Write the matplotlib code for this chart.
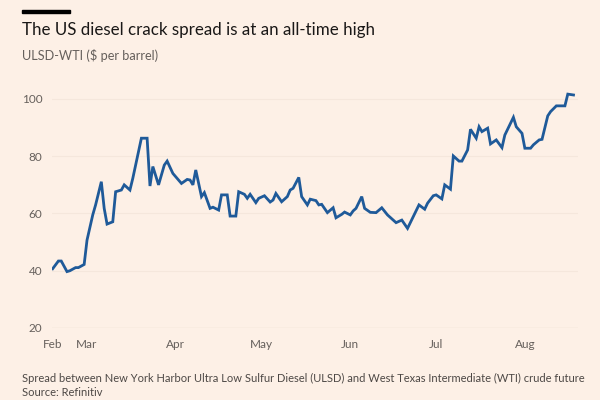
import matplotlib
matplotlib.use("Agg")
import matplotlib.pyplot as plt
import pandas as pd

dates = [
    "2022-02-17", "2022-02-19", "2022-02-20", "2022-02-22", "2022-02-23", "2022-02-25",
    "2022-02-26", "2022-02-28", "2022-03-01", "2022-03-03", "2022-03-04", "2022-03-06",
    "2022-03-07", "2022-03-08", "2022-03-10", "2022-03-11", "2022-03-13", "2022-03-14",
    "2022-03-16", "2022-03-17", "2022-03-20", "2022-03-22", "2022-03-23", "2022-03-24",
    "2022-03-26", "2022-03-28", "2022-03-29", "2022-03-31", "2022-04-03", "2022-04-05",
    "2022-04-06", "2022-04-07", "2022-04-08", "2022-04-10", "2022-04-11", "2022-04-13",
    "2022-04-14", "2022-04-16", "2022-04-17", "2022-04-19", "2022-04-20", "2022-04-22",
    "2022-04-23", "2022-04-25", "2022-04-26", "2022-04-27", "2022-04-29", "2022-04-30",
    "2022-05-02", "2022-05-04", "2022-05-05", "2022-05-06", "2022-05-08", "2022-05-10",
    "2022-05-11", "2022-05-12", "2022-05-14", "2022-05-15", "2022-05-17", "2022-05-18",
    "2022-05-20", "2022-05-21", "2022-05-22", "2022-05-24", "2022-05-26", "2022-05-27",
    "2022-05-29", "2022-05-30", "2022-06-01", "2022-06-02", "2022-06-03", "2022-06-05",
    "2022-06-06", "2022-06-08", "2022-06-10", "2022-06-12", "2022-06-14", "2022-06-17",
    "2022-06-19", "2022-06-21", "2022-06-23", "2022-06-25", "2022-06-27", "2022-06-28",
    "2022-06-30", "2022-07-01", "2022-07-03", "2022-07-04", "2022-07-06", "2022-07-07",
    "2022-07-09", "2022-07-10", "2022-07-12", "2022-07-13", "2022-07-15", "2022-07-16",
    "2022-07-17", "2022-07-19", "2022-07-20", "2022-07-22", "2022-07-24", "2022-07-25",
    "2022-07-28", "2022-07-29", "2022-07-31", "2022-08-01", "2022-08-03", "2022-08-04",
    "2022-08-06", "2022-08-07", "2022-08-09", "2022-08-10", "2022-08-12", "2022-08-13",
    "2022-08-15", "2022-08-16", "2022-08-18",
]
spread = [
    40.7, 43.4, 43.4, 39.7, 40.0, 41.1,
    41.1, 42.2, 50.7, 59.5, 63.0, 71.1,
    61.8, 56.3, 57.1, 67.6, 68.2, 70.0,
    68.2, 72.3, 86.3, 86.3, 69.6, 76.4,
    70.0, 76.9, 78.3, 74.0, 70.5, 71.9,
    71.7, 70.0, 75.2, 65.9, 67.3, 61.8,
    62.2, 61.2, 66.5, 66.5, 59.1, 59.1,
    67.6, 66.7, 65.3, 66.7, 63.8, 65.3,
    66.2, 64.0, 64.7, 67.0, 64.1, 65.9,
    68.2, 68.8, 72.6, 65.9, 63.0, 65.0,
    64.5, 63.0, 63.2, 60.3, 62.0, 58.5,
    59.7, 60.5, 59.5, 60.9, 61.8, 65.9,
    61.8, 60.4, 60.3, 62.0, 59.5, 56.8,
    57.7, 54.8, 58.9, 63.0, 61.5, 63.6,
    66.2, 66.5, 65.1, 70.0, 68.5, 80.1,
    78.3, 78.3, 82.2, 89.4, 86.3, 90.3,
    88.6, 89.8, 84.3, 85.7, 83.0, 87.4,
    93.6, 90.3, 88.0, 82.8, 82.8, 84.0,
    85.7, 85.9, 94.1, 95.6, 97.6, 97.6,
    97.6, 101.7, 101.4,
]
y_ticks = [20, 40, 60, 80, 100]
x_tick_dates = ["2022-02-17", "2022-03-01", "2022-04-01", "2022-05-01",
                "2022-06-01", "2022-07-01", "2022-08-01"]
x_tick_labels = ["Feb", "Mar", "Apr", "May", "Jun", "Jul", "Aug"]

title = "The US diesel crack spread is at an all-time high"
subtitle = "ULSD-WTI ($ per barrel)"
note = "Spread between New York Harbor Ultra Low Sulfur Diesel (ULSD) and West Texas Intermediate (WTI) crude future"
source = "Source: Refinitiv"

BG = "#FDF0E6"
LINE = "#1F5A99"
GRAY = "#66605C"

plt.rcParams["font.family"] = ["Lato", "DejaVu Sans"]

fig = plt.figure(figsize=(6, 4), dpi=100, facecolor=BG)
ax = fig.add_axes([0.087, 0.18, 0.876, 0.594], facecolor=BG)

x = pd.to_datetime(dates)
ax.plot(x, spread, color=LINE, lw=2.0, solid_joinstyle="miter", zorder=3)

ax.set_ylim(20, 103)
ax.set_xlim(pd.Timestamp("2022-02-16 20:00"), pd.Timestamp("2022-08-19 12:00"))
ax.set_yticks(y_ticks)
ax.set_yticklabels([str(v) for v in y_ticks])
ax.set_xticks(pd.to_datetime(x_tick_dates))
ax.set_xticklabels(x_tick_labels)

for s in ax.spines.values():
    s.set_visible(False)
ax.grid(axis="y", color="#F5E7DC", lw=0.8, zorder=0)
ax.axhline(20, color="#EEE1D6", lw=1.0, zorder=1)
ax.tick_params(axis="both", length=0, labelsize=8.5, colors=GRAY)
ax.tick_params(axis="y", pad=7)
ax.tick_params(axis="x", pad=8)

# top black bar
fig.patches.append(plt.Rectangle((22 / 600, 1 - 13 / 400), 48 / 600, 3 / 400,
                                 transform=fig.transFigure, color="black"))
fig.text(22 / 600, 1 - 30 / 400, title, fontsize=12.2, color="#1A1817",
         va="center", ha="left")
fig.text(22 / 600, 1 - 55 / 400, subtitle, fontsize=9.2, color=GRAY,
         va="center", ha="left")
fig.text(22 / 600, 1 - 378 / 400, note, fontsize=8.05, color="#4D4845",
         va="center", ha="left")
fig.text(22 / 600, 1 - 393 / 400, source, fontsize=8.05, color="#4D4845",
         va="center", ha="left")

fig.savefig("out.png", dpi=100, facecolor=BG)
